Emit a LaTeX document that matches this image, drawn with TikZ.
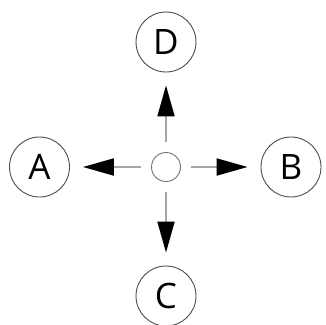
\documentclass[tikz,border=0pt]{standalone}
\usepackage{fontspec}
\setmainfont{Open Sans}
\usetikzlibrary{arrows.meta}
\begin{document}
\begin{tikzpicture}[x=1pt,y=-1pt,
  lettercircle/.style={circle,draw=black!70,line width=0.9pt,minimum size=60pt,inner sep=0pt,font=\fontsize{35}{35}\selectfont},
  hub/.style={circle,draw=black!55,line width=0.9pt,minimum size=29pt,inner sep=0pt},
  dirarrow/.style={draw=black!35,line width=2pt,-{Triangle[length=31pt,width=17pt,fill=black,color=black]},shorten <=10pt,shorten >=13pt}]
\useasboundingbox (0,0) rectangle (326,324);
\node[hub] (o) at (166,167) {};
\node[lettercircle] (a) at (39.5,167) {A};
\node[lettercircle] (b) at (291,167) {B};
\node[lettercircle] (c) at (166,296) {C};
\node[lettercircle] (d) at (166,42) {D};
\draw[dirarrow] (o) -- (a);
\draw[dirarrow] (o) -- (b);
\draw[dirarrow] (o) -- (c);
\draw[dirarrow] (o) -- (d);
\end{tikzpicture}
\end{document}
